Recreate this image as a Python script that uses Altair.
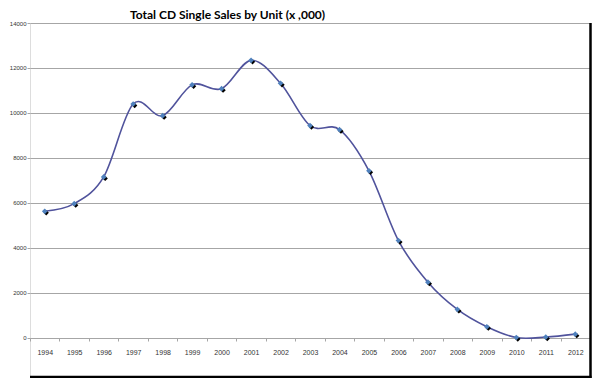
import altair as alt
import pandas as pd

years = ["1994", "1995", "1996", "1997", "1998", "1999", "2000", "2001", "2002", "2003",
         "2004", "2005", "2006", "2007", "2008", "2009", "2010", "2011", "2012"]
sales = [5630, 5970, 7160, 10400, 9880, 11250, 11080, 12340, 11320, 9440,
         9260, 7430, 4330, 2480, 1270, 500, 20, 40, 170]
y_ticks = [0, 2000, 4000, 6000, 8000, 10000, 12000, 14000]

df = pd.DataFrame({"year": years, "sales": sales})

W, H = 560, 355
GRAY = "#A6A6A6"

xscale = alt.Scale(type="band", paddingInner=0, paddingOuter=0)
yscale = alt.Scale(domain=[-1780, 14000], nice=False, zero=False)

xaxis = alt.Axis(title=None, orient="bottom", offset=-40, tickBand="extent",
                 domainColor=GRAY, tickColor=GRAY, tickSize=3, grid=False,
                 labelFont="Liberation Sans", labelFontSize=7, labelColor="#333333",
                 labelPadding=7, labelAngle=0)
yaxis = alt.Axis(title=None, values=y_ticks, format="d", grid=True, gridColor=GRAY, gridWidth=1,
                 domain=False, tickColor=GRAY, tickSize=3,
                 labelFont="Liberation Sans", labelFontSize=6, labelColor="#333333",
                 labelPadding=1)

enc = dict(
    x=alt.X("year:O", bandPosition=0.5, scale=xscale, axis=xaxis),
    y=alt.Y("sales:Q", scale=yscale, axis=yaxis),
)

base = alt.Chart(df)

line = base.mark_line(interpolate="cardinal", color="#50539C", strokeWidth=1.6).encode(**enc)
shadow = base.mark_point(shape="diamond", filled=True, color="black", size=28,
                         xOffset=1.5, yOffset=1.5, opacity=1).encode(**enc)
dots = base.mark_point(shape="diamond", filled=True, color="#4F81BD", size=32,
                       opacity=1).encode(**enc)

one = pd.DataFrame({"k": [0]})
right_rule = alt.Chart(one).mark_rule(color="black", strokeWidth=2.5).encode(
    x=alt.value(W + 0.5), y=alt.value(0), y2=alt.value(H))
bottom_rule = alt.Chart(one).mark_rule(color="black", strokeWidth=2.5).encode(
    x=alt.value(0), x2=alt.value(W + 1.5), y=alt.value(H - 1))

chart = alt.layer(line, shadow, dots, right_rule, bottom_rule).properties(
    width=W,
    height=H,
    autosize=alt.AutoSizeParams(type="none"),
    padding={"left": 22, "top": 15, "right": 2, "bottom": 0},
    title=alt.TitleParams(text="Total CD Single Sales by Unit (x ,000)", anchor="start",
                          frame="group", dx=100, offset=-2, font="Lato", fontSize=12,
                          fontWeight="bold", color="black"),
).configure_view(stroke=GRAY, strokeWidth=1).configure(background="white")

chart.save("out.html", embed_options={"renderer": "svg", "actions": False})
